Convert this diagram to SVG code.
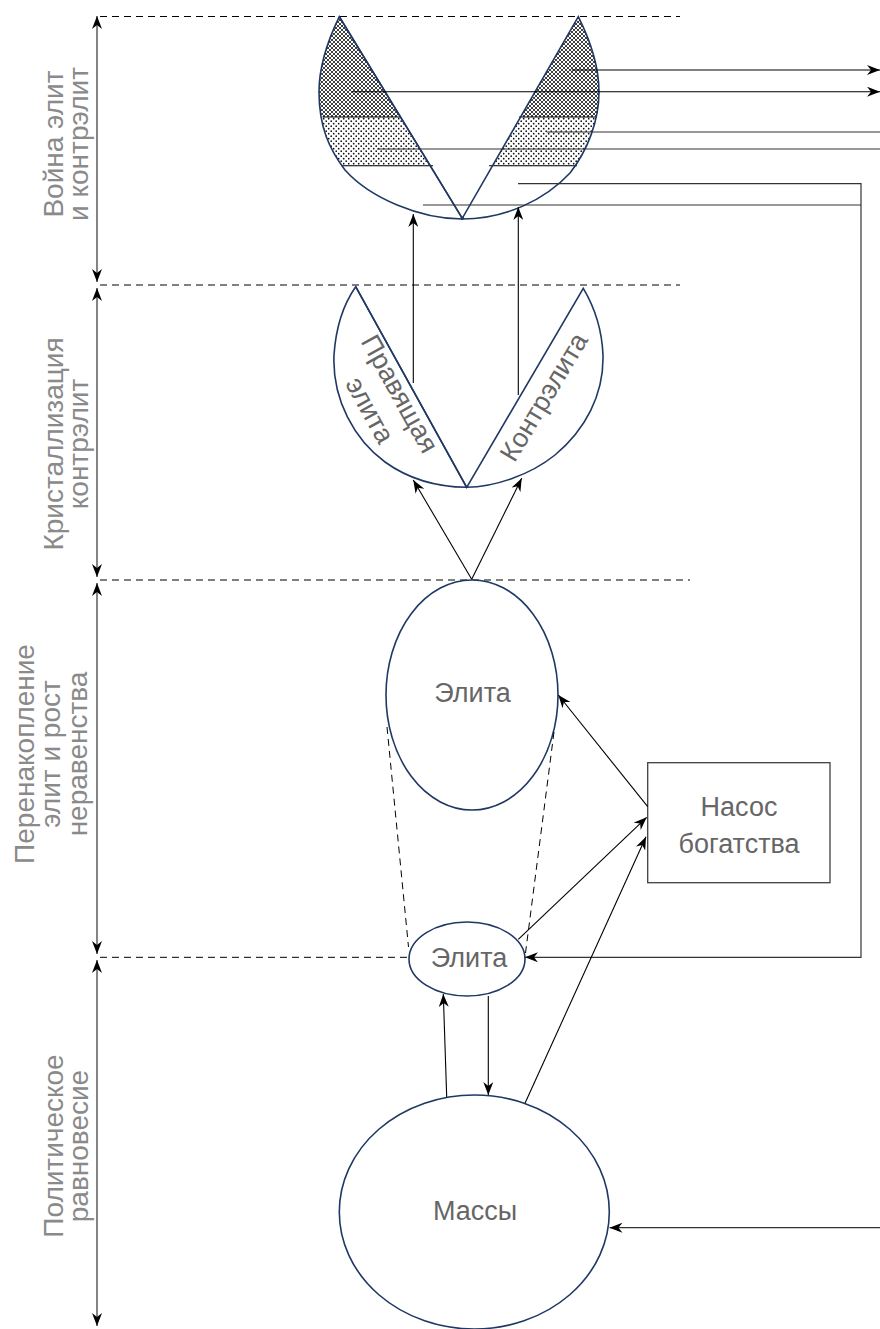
<svg xmlns="http://www.w3.org/2000/svg" width="880" height="1329" viewBox="0 0 880 1329">
<style>
.node{fill:#fff;stroke:#1f3864;stroke-width:1.6}
.lens{fill:none;stroke:#1f3864;stroke-width:1.6}
.ln{fill:none;stroke:#000;stroke-width:1.1}
.gl{fill:none;stroke:#333;stroke-width:1.2}
.dash{fill:none;stroke:#000;stroke-width:1;stroke-dasharray:7 5}
.ntx{font-family:"Liberation Sans",Arial,sans-serif;font-size:27px;fill:#666;text-anchor:middle}
.lbl{font-family:"Liberation Sans",Arial,sans-serif;font-size:28px;fill:#8a8a8a;text-anchor:middle}
</style>
<defs>
<marker id="arr" viewBox="0 0 13 10" refX="13" refY="5" markerWidth="13" markerHeight="10" markerUnits="userSpaceOnUse" orient="auto-start-reverse">
<path d="M0,0 L13,5 L0,10 L4,5 Z" fill="#000"/>
</marker>
<pattern id="cross" width="4" height="4" patternUnits="userSpaceOnUse">
<rect width="4" height="4" fill="#fff"/>
<path d="M0,0 L4,4 M4,0 L0,4" stroke="#2a2a2a" stroke-width="0.9"/>
</pattern>
<pattern id="dots" width="5" height="5" patternUnits="userSpaceOnUse">
<rect width="5" height="5" fill="#fff"/>
<circle cx="1.2" cy="1.2" r="0.85" fill="#111"/>
<circle cx="3.7" cy="3.7" r="0.85" fill="#111"/>
</pattern>
<clipPath id="clipL">
<path d="M339.3,16.7 C327,42 319,68 319,92 C319,128 330,150 345,170 C370,198 420,219 462.3,219 L462.3,218.3 Z"/>
</clipPath>
<clipPath id="clipR">
<path d="M578.3,16.7 C590,40 599,65 599,92 C599,120 588,150 570,173 C545,200 505,219 462.3,219 L462.3,218.3 Z"/>
</clipPath>
</defs>

<g id="phases">
<line class="dash" x1="100" y1="16.5" x2="680" y2="16.5"/>
<line class="dash" x1="100" y1="285" x2="680" y2="285"/>
<line class="dash" x1="100" y1="580" x2="690" y2="580"/>
<line class="dash" x1="100" y1="957.3" x2="409" y2="957.3"/>
<line class="gl" x1="97" y1="16" x2="97" y2="282" marker-start="url(#arr)" marker-end="url(#arr)"/>
<line class="gl" x1="97" y1="288" x2="97" y2="577" marker-start="url(#arr)" marker-end="url(#arr)"/>
<line class="gl" x1="97" y1="583" x2="97" y2="954" marker-start="url(#arr)" marker-end="url(#arr)"/>
<line class="gl" x1="97" y1="960" x2="97" y2="1326" marker-start="url(#arr)" marker-end="url(#arr)"/>
</g>

<g id="phase-labels">
<g transform="translate(0,144) rotate(-90)"><text class="lbl" x="0" y="63">Война элит</text><text class="lbl" x="0" y="88">и контрэлит</text></g>
<g transform="translate(0,444) rotate(-90)"><text class="lbl" x="0" y="63">Кристаллизация</text><text class="lbl" x="0" y="88">контрэлит</text></g>
<g transform="translate(0,754) rotate(-90)"><text class="lbl" x="0" y="34">Перенакопление</text><text class="lbl" x="0" y="60">элит и рост</text><text class="lbl" x="0" y="87">неравенства</text></g>
<g transform="translate(0,1146) rotate(-90)"><text class="lbl" x="0" y="63">Политическое</text><text class="lbl" x="0" y="88">равновесие</text></g>
</g>

<g id="war-lens">
<g clip-path="url(#clipL)">
<rect x="300" y="0" width="170" height="117" fill="url(#cross)"/>
<rect x="300" y="117" width="170" height="48.7" fill="url(#dots)"/>
</g>
<g clip-path="url(#clipR)">
<rect x="455" y="0" width="160" height="117" fill="url(#cross)"/>
<rect x="455" y="117" width="160" height="48.7" fill="url(#dots)"/>
</g>
<line class="ln" x1="322.5" y1="117" x2="400.5" y2="117"/>
<line class="ln" x1="341.5" y1="165.7" x2="433" y2="165.7"/>
<line class="ln" x1="519" y1="117" x2="597" y2="117"/>
<line class="ln" x1="489" y1="165.7" x2="577" y2="165.7"/>
<path class="lens" d="M339.3,16.7 C327,42 319,68 319,92 C319,128 330,150 345,170 C370,198 420,219 462.3,219 C505,219 545,200 570,173 C588,150 599,120 599,92 C599,65 590,40 578.3,16.7 L462.3,218.3 Z"/>
<line class="lens" x1="339.3" y1="16.7" x2="462.3" y2="218.3"/>
<circle cx="462.3" cy="218.3" r="1.8" fill="#1f3864"/>
</g>

<g id="crystal-lens">
<path class="lens" d="M355.7,286.7 C345,302 336,325 334,355 C332,400 355,440 385,462 C410,480 440,487 466.7,487.3 C495,487 530,475 555,455 C585,430 604,395 603,355 C602,330 595,308 583.3,288.3 L466.7,487.3 Z"/>
<line class="lens" x1="355.7" y1="286.7" x2="466.7" y2="487.3"/>
<g transform="translate(383,403) rotate(61)"><text class="ntx" x="0" y="-10">Правящая</text><text class="ntx" x="0" y="24">элита</text></g>
<g transform="translate(544,397) rotate(-59)"><text class="ntx" x="0" y="9">Контрэлита</text></g>
</g>

<g id="elite-big">
<ellipse class="node" cx="472" cy="695" rx="86" ry="115"/>
<text class="ntx" x="472.5" y="701.5">Элита</text>
</g>

<g id="pump">
<rect x="647.7" y="762.7" width="182.3" height="120" fill="#fff" stroke="#404040" stroke-width="1.3"/>
<text class="ntx" x="739" y="816">Насос</text>
<text class="ntx" x="739" y="853">богатства</text>
</g>

<g id="elite-small">
<ellipse class="node" cx="467" cy="959" rx="58" ry="37"/>
<text class="ntx" x="469" y="966.5">Элита</text>
</g>

<g id="masses">
<ellipse class="node" cx="474.3" cy="1212" rx="135" ry="117"/>
<text class="ntx" x="475" y="1220">Массы</text>
</g>

<g id="connectors">
<line class="dash" x1="387" y1="727" x2="408.5" y2="947"/>
<line class="dash" x1="554" y1="732" x2="525.5" y2="953"/>
<line class="ln" x1="413.3" y1="383" x2="413.3" y2="214" marker-end="url(#arr)"/>
<line class="ln" x1="518.3" y1="395" x2="518.3" y2="207" marker-end="url(#arr)"/>
<line class="ln" x1="471.7" y1="579.3" x2="413.3" y2="480" marker-end="url(#arr)"/>
<line class="ln" x1="471.7" y1="579.3" x2="521.7" y2="478.3" marker-end="url(#arr)"/>
<line class="ln" x1="571.7" y1="70" x2="880" y2="70" marker-end="url(#arr)"/>
<line class="ln" x1="351.7" y1="91.7" x2="880" y2="91.7" marker-end="url(#arr)"/>
<line class="gl" x1="546.7" y1="132" x2="880" y2="132"/>
<line class="gl" x1="377" y1="149" x2="880" y2="149"/>
<polyline class="gl" points="518,183.7 861,183.7 861,957.3 525,957.3" marker-end="url(#arr)"/>
<polyline class="gl" points="423,205 861,205"/>
<line class="ln" x1="647.7" y1="806.7" x2="558.3" y2="695" marker-end="url(#arr)"/>
<line class="ln" x1="518.3" y1="939.3" x2="646.7" y2="817.3" marker-end="url(#arr)"/>
<line class="ln" x1="525" y1="1103.3" x2="646" y2="836.7" marker-end="url(#arr)"/>
<line class="ln" x1="446.7" y1="1097" x2="443.3" y2="994" marker-end="url(#arr)"/>
<line class="ln" x1="488.3" y1="996" x2="488.3" y2="1095" marker-end="url(#arr)"/>
<line class="gl" x1="880" y1="1227.7" x2="609.5" y2="1227.7" marker-end="url(#arr)"/>
</g>
</svg>
